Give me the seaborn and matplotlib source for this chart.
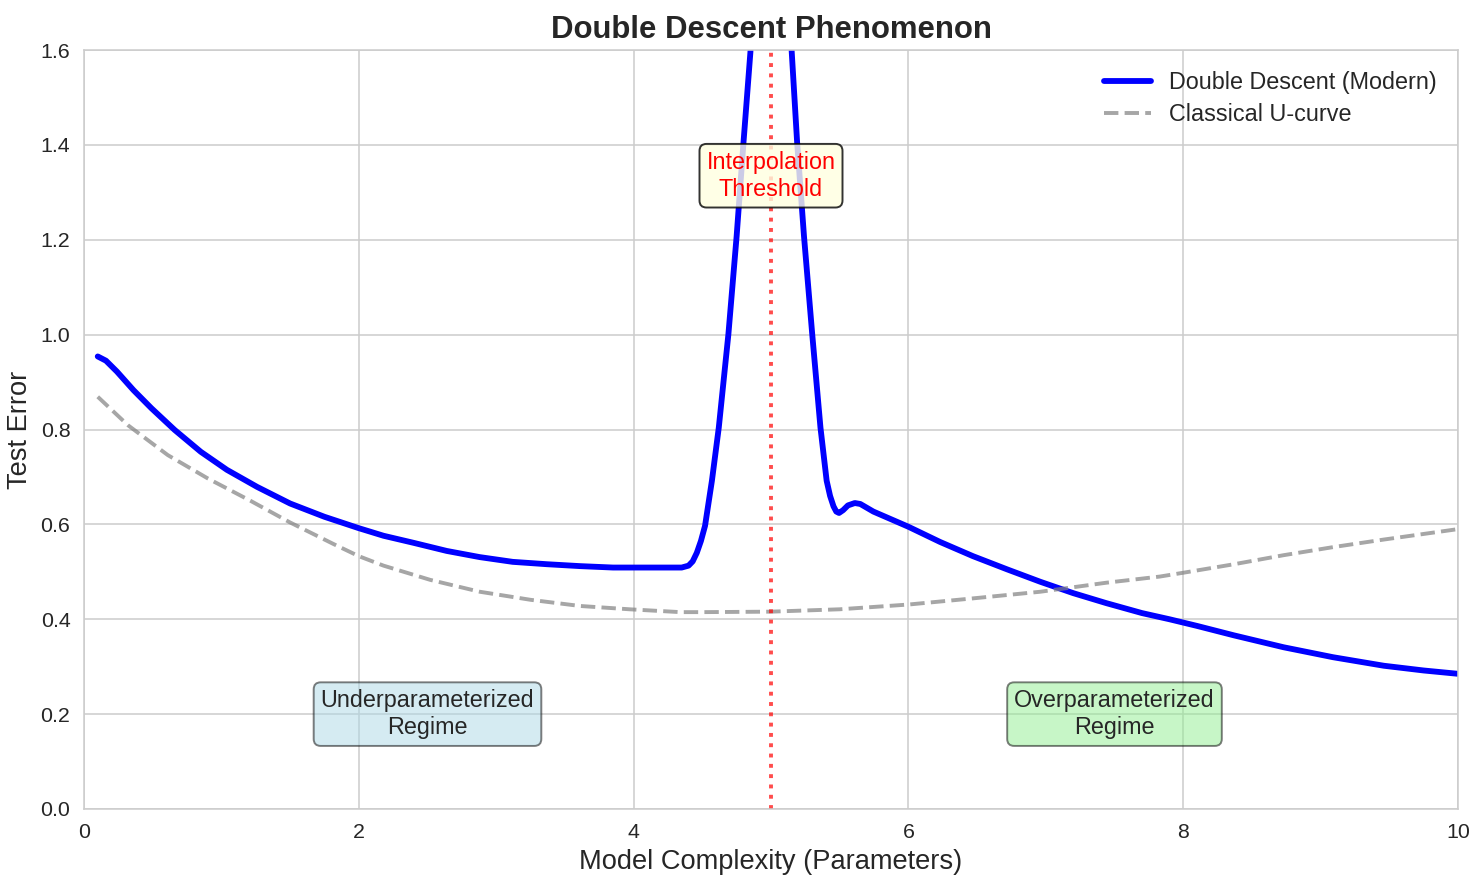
import pandas as pd
import matplotlib
matplotlib.use('Agg')
import matplotlib.pyplot as plt
import seaborn as sns

# Valores
complexity_modern = [0.1, 0.16, 0.24, 0.36, 0.49, 0.66, 0.85, 1.04, 1.26, 1.5, 1.75, 2.0, 2.18,
                     2.4, 2.64, 2.88, 3.12, 3.37, 3.61, 3.85, 4.1, 4.35, 4.40, 4.43, 4.46, 4.49,
                     4.52, 4.57, 4.62, 4.69, 4.75, 4.80, 4.85, 4.9, 5.0, 5.1, 5.15, 5.19, 5.24,
                     5.30, 5.36, 5.405, 5.43, 5.455, 5.475, 5.495, 5.525, 5.56, 5.61, 5.65, 5.745,
                     6.0, 6.23, 6.47, 6.72, 6.96, 7.2, 7.44, 7.7, 7.9, 8.1, 8.37, 8.73, 9.09, 9.46,
                     9.75, 10.0]
error_modern = [0.954, 0.945, 0.922, 0.883, 0.845, 0.799, 0.753, 0.715, 0.679, 0.644, 0.616, 0.592, 0.576,
                0.561, 0.544, 0.531, 0.521, 0.516, 0.512, 0.509, 0.509, 0.509, 0.513, 0.522, 0.540, 0.565,
                0.597, 0.692, 0.804, 1.001, 1.208, 1.406, 1.595, 1.85, 2.1, 1.85, 1.6, 1.406, 1.208,
                1.001, 0.804, 0.692, 0.660, 0.638, 0.627, 0.624, 0.630, 0.640, 0.645, 0.643, 0.627,
                0.595, 0.563, 0.533, 0.505, 0.479, 0.455, 0.434, 0.413, 0.400, 0.386, 0.366, 0.341,
                0.320, 0.302, 0.292, 0.285]

complexity_classic = [0.1, 0.32, 0.61, 0.9, 1.21, 1.5, 1.82, 2.0, 2.18, 2.52, 2.88, 3.25, 3.61, 3.97,
                      4.34, 4.5, 5.0, 5.5, 6.0, 6.47, 6.96, 7.44, 7.83, 8.0, 8.37, 8.73, 9.09, 9.46, 10.0]
error_classic = [0.869, 0.809, 0.746, 0.697, 0.650, 0.604, 0.558, 0.533, 0.513, 0.483, 0.458, 0.441, 0.428, 0.421,
                 0.415, 0.415, 0.416, 0.421, 0.431, 0.444, 0.458, 0.477, 0.490, 0.498, 0.516, 0.535, 0.552, 0.568, 0.590]

threshold = 5.0

modern = pd.DataFrame({'complexity': complexity_modern, 'error': error_modern})
classic = pd.DataFrame({'complexity': complexity_classic, 'error': error_classic})

sns.set_style('whitegrid')
plt.rcParams['font.family'] = ['Liberation Sans', 'DejaVu Sans']

fig, ax = plt.subplots(figsize=(1484 / 140, 883 / 140), dpi=140)
fig.subplots_adjust(left=84 / 1484, right=1458 / 1484, bottom=1 - 809 / 883, top=1 - 50 / 883)

sns.lineplot(ax=ax, data=modern, x='complexity', y='error', color='blue', linewidth=3,
             label='Double Descent (Modern)')
sns.lineplot(ax=ax, data=classic, x='complexity', y='error', color='gray', linewidth=2,
             linestyle='--', alpha=0.7, label='Classical U-curve')

ax.axvline(threshold, color='red', linestyle=':', linewidth=2, alpha=0.7)

# Cajas de texto
ax.text(threshold, 1.335, 'Interpolation\nThreshold', ha='center', va='center', fontsize=12, color='red',
        bbox=dict(boxstyle='round,pad=0.3', facecolor='lightyellow', edgecolor='black', alpha=0.8))
ax.text(2.5, 0.2, 'Underparameterized\nRegime', ha='center', va='center', fontsize=12,
        bbox=dict(boxstyle='round,pad=0.3', facecolor='lightblue', edgecolor='black', alpha=0.5))
ax.text(7.5, 0.2, 'Overparameterized\nRegime', ha='center', va='center', fontsize=12,
        bbox=dict(boxstyle='round,pad=0.3', facecolor='lightgreen', edgecolor='black', alpha=0.5))

ax.set_xlim(0, 10)
ax.set_ylim(0, 1.6)
ax.tick_params(labelsize=11)
ax.set_xlabel('Model Complexity (Parameters)', fontsize=14)
ax.set_ylabel('Test Error', fontsize=14)
ax.set_title('Double Descent Phenomenon', fontsize=16, fontweight='bold')
ax.legend(loc='upper right', fontsize=12, frameon=False, labelspacing=0.4)

plt.savefig('out.png', dpi=140)
